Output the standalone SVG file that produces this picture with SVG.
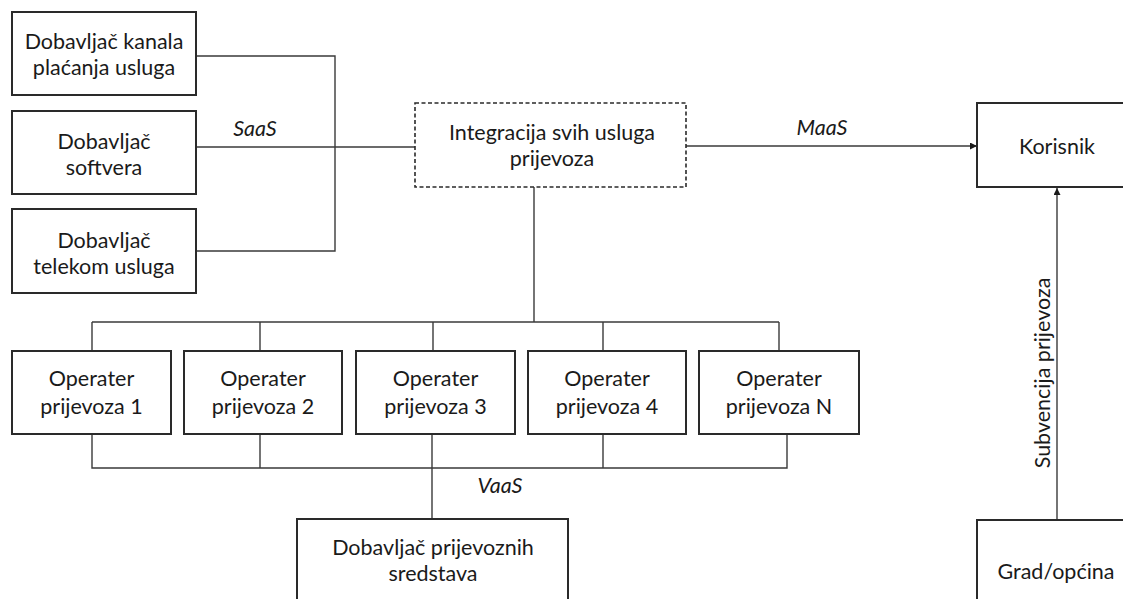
<svg xmlns="http://www.w3.org/2000/svg" width="1123" height="599" viewBox="0 0 1123 599">
<defs>
<style>
.box{fill:#fff;stroke:#2a2a2a;stroke-width:2}
.dash{fill:#fff;stroke:#2a2a2a;stroke-width:1.6;stroke-dasharray:4 2.5}
.t{font-family:Lato,"Open Sans",sans-serif;font-size:21.5px;fill:#1a1a1a;text-anchor:middle}
.it{font-family:Lato,"Open Sans",sans-serif;font-size:21.5px;font-style:italic;fill:#1a1a1a;text-anchor:middle}
.c{fill:none;stroke:#3a3a3a;stroke-width:1.4}
</style>
<marker id="ah" viewBox="0 0 10 10" refX="10" refY="5" markerWidth="7" markerHeight="7" orient="auto" markerUnits="userSpaceOnUse">
<path d="M0,0 L10,5 L0,10 z" fill="#1a1a1a"/>
</marker>
</defs>
<rect width="1123" height="599" fill="#fff"/>
<g id="connectors">
<polyline class="c" points="196,56 335,56 335,251 196,251"/>
<line class="c" x1="196" y1="147" x2="415" y2="147"/>
<line class="c" x1="686" y1="146" x2="977" y2="146" marker-end="url(#ah)"/>
<line class="c" x1="534" y1="187" x2="534" y2="322"/>
<line class="c" x1="92" y1="322" x2="779" y2="322"/>
<line class="c" x1="92" y1="322" x2="92" y2="351"/>
<line class="c" x1="260" y1="322" x2="260" y2="351"/>
<line class="c" x1="433" y1="322" x2="433" y2="351"/>
<line class="c" x1="603" y1="322" x2="603" y2="351"/>
<line class="c" x1="779" y1="322" x2="779" y2="351"/>
<polyline class="c" points="92,434 92,468 787,468 787,434"/>
<line class="c" x1="260" y1="434" x2="260" y2="468"/>
<line class="c" x1="603" y1="434" x2="603" y2="468"/>
<line class="c" x1="432" y1="434" x2="432" y2="519"/>
<line class="c" x1="1057" y1="520" x2="1057" y2="188" marker-end="url(#ah)"/>
<text class="it" x="255" y="136">SaaS</text>
<text class="it" x="822" y="135">MaaS</text>
<text class="it" x="500" y="493">VaaS</text>
<text class="t" transform="translate(1050,373) rotate(-90)" x="0" y="0">Subvencija prijevoza</text>
</g>
<g id="n-kanal">
<rect class="box" x="12" y="12" width="184" height="83"/>
<text class="t" x="104" y="49">Dobavljač kanala</text>
<text class="t" x="104" y="75">plaćanja usluga</text>
</g>
<g id="n-softver">
<rect class="box" x="12" y="111" width="184" height="83"/>
<text class="t" x="104" y="149">Dobavljač</text>
<text class="t" x="104" y="175">softvera</text>
</g>
<g id="n-telekom">
<rect class="box" x="12" y="209" width="184" height="84"/>
<text class="t" x="104" y="248">Dobavljač</text>
<text class="t" x="104" y="274">telekom usluga</text>
</g>
<g id="n-integracija">
<rect class="dash" x="415" y="103" width="271" height="84"/>
<text class="t" x="552" y="140">Integracija svih usluga</text>
<text class="t" x="552" y="166">prijevoza</text>
</g>
<g id="n-korisnik">
<rect class="box" x="977" y="103" width="165" height="84"/>
<text class="t" x="1057" y="154">Korisnik</text>
</g>
<g id="n-op1">
<rect class="box" x="12" y="351" width="159" height="83"/>
<text class="t" x="91.5" y="386">Operater</text>
<text class="t" x="91.5" y="414">prijevoza 1</text>
</g>
<g id="n-op2">
<rect class="box" x="184" y="351" width="158" height="83"/>
<text class="t" x="263" y="386">Operater</text>
<text class="t" x="263" y="414">prijevoza 2</text>
</g>
<g id="n-op3">
<rect class="box" x="356" y="351" width="159" height="83"/>
<text class="t" x="435.5" y="386">Operater</text>
<text class="t" x="435.5" y="414">prijevoza 3</text>
</g>
<g id="n-op4">
<rect class="box" x="528" y="351" width="158" height="83"/>
<text class="t" x="607" y="386">Operater</text>
<text class="t" x="607" y="414">prijevoza 4</text>
</g>
<g id="n-opN">
<rect class="box" x="699" y="351" width="160" height="83"/>
<text class="t" x="779" y="386">Operater</text>
<text class="t" x="779" y="414">prijevoza N</text>
</g>
<g id="n-vozila">
<rect class="box" x="297" y="519" width="271" height="100"/>
<text class="t" x="433" y="555">Dobavljač prijevoznih</text>
<text class="t" x="433" y="581">sredstava</text>
</g>
<g id="n-grad">
<rect class="box" x="977" y="520" width="165" height="100"/>
<text class="t" x="1056" y="579">Grad/općina</text>
</g>
</svg>
